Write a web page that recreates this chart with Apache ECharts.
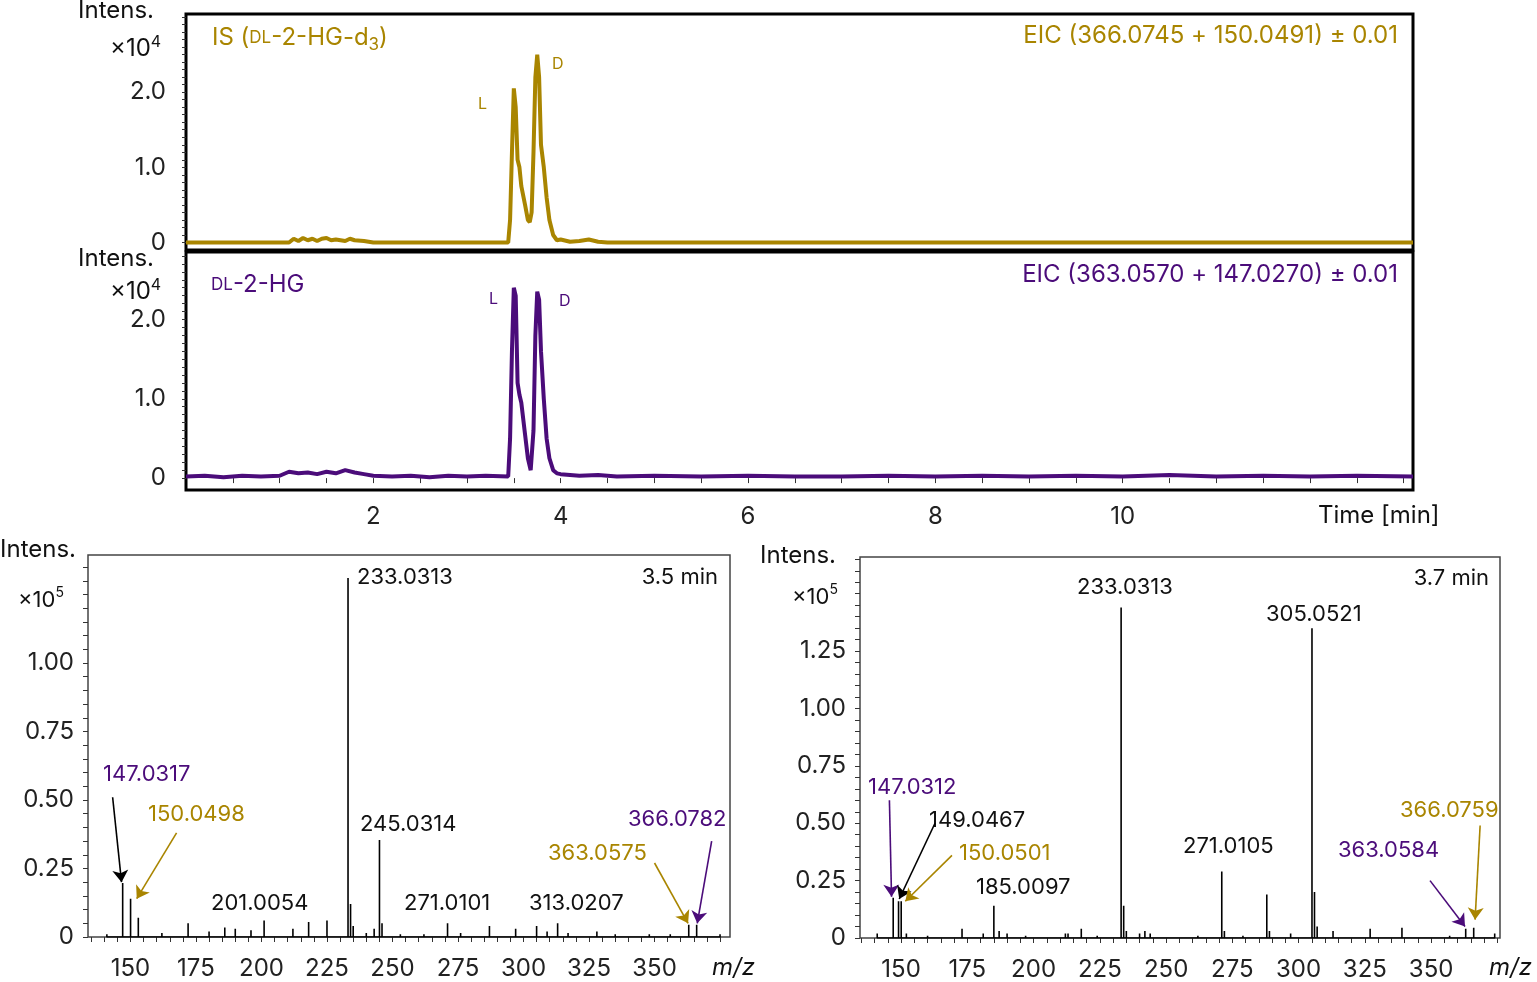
<!DOCTYPE html>
<html><head><meta charset="utf-8">
<script src="https://cdn.jsdelivr.net/npm/echarts@6/dist/echarts.min.js"></script>
<style>html,body{margin:0;padding:0;background:#fff}#c{width:1537px;height:982px}</style>
</head><body><div id="c"></div>
<script>
const GOLD = '#A98500', PURP = '#4B0C7A';
// Chromatogram IS (DL-2-HG-d3), time [min] vs intensity x10^4
const isTime = [0,1.1,1.15,1.2,1.25,1.3,1.35,1.4,1.45,1.5,1.55,1.6,1.65,1.7,1.75,1.8,1.9,2.0,2.6,2.62,2.65,3.0,3.02,3.05,3.44,3.46,3.48,3.5,3.52,3.54,3.56,3.58,3.62,3.65,3.67,3.69,3.71,3.73,3.75,3.77,3.79,3.82,3.85,3.88,3.92,3.96,4.0,4.1,4.2,4.3,4.4,4.5,5.8,5.82,5.85,8.5,8.52,8.55,9.6,9.62,9.65,13.1];
const isVal  = [0,0,0.05,0.02,0.06,0.03,0.05,0.02,0.05,0.06,0.03,0.04,0.03,0.02,0.05,0.03,0.02,0,0,0.02,0,0,0.015,0,0,0.3,1.2,2.05,1.8,1.1,1.0,0.75,0.5,0.3,0.27,0.4,1.2,2.2,2.5,2.2,1.3,1.0,0.6,0.3,0.1,0.03,0.04,0.01,0.02,0.04,0.01,0,0,0.015,0,0,0.015,0,0,0.015,0,0];
// Chromatogram DL-2-HG
const hgTime = [0,0.2,0.4,0.6,0.8,1.0,1.1,1.2,1.3,1.4,1.5,1.6,1.7,1.8,1.9,2.0,2.2,2.4,2.6,2.8,3.0,3.2,3.44,3.46,3.48,3.5,3.52,3.54,3.56,3.58,3.62,3.65,3.68,3.71,3.73,3.75,3.77,3.79,3.82,3.85,3.88,3.92,3.96,4.0,4.2,4.4,4.6,5,5.5,6,6.5,7,7.5,8,8.5,9,9.5,10,10.5,11,11.5,12,12.5,13.1];
const hgVal  = [0.02,0.03,0.01,0.03,0.02,0.03,0.08,0.06,0.07,0.05,0.08,0.06,0.1,0.07,0.05,0.03,0.02,0.03,0.01,0.03,0.02,0.03,0.02,0.5,1.6,2.4,2.3,1.2,1.05,0.95,0.55,0.25,0.1,0.6,1.8,2.35,2.25,1.6,1.0,0.5,0.25,0.1,0.06,0.05,0.03,0.04,0.02,0.03,0.02,0.03,0.02,0.02,0.03,0.02,0.03,0.02,0.03,0.02,0.04,0.02,0.03,0.02,0.03,0.02];
// Mass spectrum at 3.5 min, m/z vs intensity x10^5
const ms1Mz  = [141,147.0317,150.0498,153,162,172,180,186,190,196,201.0054,212,218,225,233.0313,234,235,240,243,245.0314,246,253,262,271.0101,276,287,297,305,309,313.0207,317,328,335,348,356,363.0575,366.0782,375];
const ms1Int = [0.01,0.197,0.14,0.07,0.015,0.05,0.02,0.035,0.03,0.025,0.06,0.03,0.055,0.06,1.31,0.12,0.04,0.015,0.03,0.354,0.05,0.01,0.01,0.05,0.015,0.04,0.03,0.04,0.02,0.05,0.015,0.02,0.01,0.01,0.01,0.045,0.045,0.01];
// Mass spectrum at 3.7 min
const ms2Mz  = [141,147.0312,149.0467,150.0501,152,160,173,181,185.0097,187,190,197,212,213,218,224,233.0313,234,235,240,242,244,262,271.0105,272,279,288,289,297,305.0521,306,307,313,327,339,357,363.0584,366.0759,374];
const ms2Int = [0.02,0.175,0.16,0.16,0.02,0.01,0.04,0.02,0.14,0.03,0.02,0.01,0.02,0.02,0.04,0.01,1.44,0.14,0.03,0.02,0.03,0.02,0.01,0.29,0.03,0.01,0.19,0.03,0.02,1.35,0.2,0.05,0.03,0.04,0.045,0.01,0.04,0.045,0.02];
const chromLabels = [2,4,6,8,10];
const msLabels = [150,175,200,225,250,275,300,325,350];

const zip = (a,b)=>a.map((v,i)=>[v,b[i]]);
const sticks = (m,h)=>{const o=[];m.forEach((x,i)=>{o.push([x,0],[x,h[i]],[x,0]);});return o;};
const range=(a,b,s)=>{const o=[];for(let v=a;v<=b+1e-9;v+=s)o.push(+v.toFixed(4));return o;};
const FONT='Inter, Roboto, sans-serif';

const ch = echarts.init(document.getElementById('c'));
const grids = [
  {left:186,top:14,width:1227,height:236,show:true,borderColor:'#000',borderWidth:3},
  {left:186,top:252,width:1227,height:238,show:true,borderColor:'#000',borderWidth:3},
  {left:88,top:555,width:642,height:382,show:true,borderColor:'#444',borderWidth:1.5},
  {left:860,top:557,width:640,height:381,show:true,borderColor:'#444',borderWidth:1.5}
];
const lbl = {fontFamily:FONT,fontSize:24,color:'#222'};
const xAxes = [
  {gridIndex:0,type:'value',min:0,max:13.1,splitLine:{show:false},axisLine:{show:false},axisTick:{show:false},axisLabel:{show:false}},
  {gridIndex:1,type:'value',min:0,max:13.1,splitLine:{show:false},axisLine:{show:false},
   axisTick:{customValues:range(0.5,13,0.5),length:5,lineStyle:{color:'#333'}},
   axisLabel:Object.assign({customValues:chromLabels,margin:15},lbl)},
  {gridIndex:2,type:'value',min:133.8,max:378.8,splitLine:{show:false},axisLine:{show:false},
   axisTick:{customValues:range(135,375,5),length:5,lineStyle:{color:'#333'}},
   axisLabel:Object.assign({customValues:msLabels,margin:20},lbl)},
  {gridIndex:3,type:'value',min:134.5,max:376,splitLine:{show:false},axisLine:{show:false},
   axisTick:{customValues:range(135,375,5),length:5,lineStyle:{color:'#333'}},
   axisLabel:Object.assign({customValues:msLabels,margin:20},lbl)}
];
const yAxes = [
  {gridIndex:0,type:'value',min:-0.1,max:3.04,splitLine:{show:false},axisLine:{show:false},
   axisTick:{customValues:range(0,3,0.1),length:4,lineStyle:{color:'#333'}},
   axisLabel:Object.assign({customValues:[0,1,2],margin:20,formatter:v=>v===0?'0':v.toFixed(1)},lbl)},
  {gridIndex:1,type:'value',min:-0.15,max:2.85,splitLine:{show:false},axisLine:{show:false},
   axisTick:{customValues:range(0,2.8,0.1),length:4,lineStyle:{color:'#333'}},
   axisLabel:Object.assign({customValues:[0,1,2],margin:20,formatter:v=>v===0?'0':v.toFixed(1)},lbl)},
  {gridIndex:2,type:'value',min:0,max:1.394,splitLine:{show:false},axisLine:{show:false},
   axisTick:{customValues:range(0,1.35,0.05),length:5,lineStyle:{color:'#333'}},
   axisLabel:Object.assign({customValues:[0,0.25,0.5,0.75,1],margin:14,formatter:v=>v===0?'0':v.toFixed(2)},lbl)},
  {gridIndex:3,type:'value',min:0,max:1.66,splitLine:{show:false},axisLine:{show:false},
   axisTick:{customValues:range(0,1.65,0.05),length:5,lineStyle:{color:'#333'}},
   axisLabel:Object.assign({customValues:[0,0.25,0.5,0.75,1,1.25],margin:14,formatter:v=>v===0?'0':v.toFixed(2)},lbl)}
];
const arrowLine=(from,to,color)=>[{coord:from,lineStyle:{color,width:1.6,type:'solid'}},{coord:to}];
const series = [
  {type:'line',xAxisIndex:0,yAxisIndex:0,data:zip(isTime,isVal),showSymbol:false,lineStyle:{color:GOLD,width:4},silent:true},
  {type:'line',xAxisIndex:1,yAxisIndex:1,data:zip(hgTime,hgVal),showSymbol:false,lineStyle:{color:PURP,width:4},silent:true},
  {type:'line',xAxisIndex:2,yAxisIndex:2,data:sticks(ms1Mz,ms1Int),showSymbol:false,lineStyle:{color:'#000',width:1.6},silent:true,
   markLine:{silent:true,symbol:['none','arrow'],symbolSize:12,label:{show:false},lineStyle:{type:'solid'},data:[
     arrowLine([143.2,0.51],[146.6,0.2],'#000'),
     arrowLine([167.6,0.38],[152.4,0.14],GOLD),
     arrowLine([350,0.27],[362.8,0.05],GOLD),
     arrowLine([371.8,0.35],[366.3,0.05],PURP)]}},
  {type:'line',xAxisIndex:3,yAxisIndex:3,data:sticks(ms2Mz,ms2Int),showSymbol:false,lineStyle:{color:'#000',width:1.6},silent:true,
   markLine:{silent:true,symbol:['none','arrow'],symbolSize:12,label:{show:false},lineStyle:{type:'solid'},data:[
     arrowLine([145.6,0.6],[146.4,0.18],PURP),
     arrowLine([162.8,0.5],[149.3,0.17],'#000'),
     arrowLine([169.2,0.36],[151.6,0.16],GOLD),
     arrowLine([349.6,0.25],[362.8,0.05],PURP),
     arrowLine([368.5,0.49],[366.6,0.08],GOLD)]}}
];
const T=(x,y,text,color,size,align,extra)=>({type:'text',x,y,style:Object.assign({text,fill:color||'#111',font:(size||22)+'px '+FONT,align:align||'left',verticalAlign:'middle'},extra||{})});
const R=(x,y,text,rich,align,fill)=>({type:'text',x,y,style:{text,rich,fill:fill||'#111',align:align||'left',verticalAlign:'middle',font:'24px '+FONT}});
const richG={n:{fontSize:24,fontFamily:FONT,fill:GOLD},s:{fontSize:17,fontFamily:FONT,fill:GOLD},sub:{fontSize:17,fontFamily:FONT,fill:GOLD,padding:[14,0,0,0]}};
const richP={n:{fontSize:24,fontFamily:FONT,fill:PURP},s:{fontSize:17,fontFamily:FONT,fill:PURP}};
const richX=(sz)=>({n:{fontSize:sz,fontFamily:FONT,fill:'#111'},sup:{fontSize:Math.round(sz*0.65),fontFamily:FONT,fill:'#111',padding:[0,0,14,0]}});
const graphic=[
  T(78,11,'Intens.','#111',24), R(110,49,'{n|×10}{sup|4}',richX(24)),
  T(78,259,'Intens.','#111',24), R(110,292,'{n|×10}{sup|4}',richX(24)),
  T(0,550,'Intens.','#111',24), R(18,600,'{n|×10}{sup|5}',richX(22)),
  T(760,556,'Intens.','#111',24), R(792,597,'{n|×10}{sup|5}',richX(22)),
  R(212,38,'{n|IS (}{s|DL}{n|-2-HG-d}{sub|3}{n|)}',richG,'left',GOLD),
  T(1398,36,'EIC (366.0745 + 150.0491) ± 0.01',GOLD,24,'right'),
  T(478,104,'L',GOLD,16), T(552,64,'D',GOLD,16),
  R(211,285,'{s|DL}{n|-2-HG}',richP,'left',PURP),
  T(1398,275,'EIC (363.0570 + 147.0270) ± 0.01',PURP,24,'right'),
  T(489,299,'L',PURP,16), T(559,301,'D',PURP,16),
  T(1318,516,'Time [min]','#111',24),
  T(712,968,'m/z','#111',24,'left',{font:'italic 24px '+FONT}),
  T(1489,968,'m/z','#111',24,'left',{font:'italic 24px '+FONT}),
  // left spectrum labels
  T(357,577,'233.0313'), T(718,577,'3.5 min','#111',22,'right'), T(360,824,'245.0314'),
  T(211,903,'201.0054'), T(404,903,'271.0101'), T(529,903,'313.0207'),
  T(103,774,'147.0317',PURP), T(148,814,'150.0498',GOLD), T(548,853,'363.0575',GOLD), T(628,819,'366.0782',PURP),
  // right spectrum labels
  T(1077,587,'233.0313'), T(1489,578,'3.7 min','#111',22,'right'), T(1266,614,'305.0521'),
  T(1183,846,'271.0105'), T(976,887,'185.0097'), T(929,820,'149.0467'),
  T(959,853,'150.0501',GOLD), T(868,787,'147.0312',PURP), T(1338,850,'363.0584',PURP), T(1400,810,'366.0759',GOLD)
];
ch.setOption({animation:false,backgroundColor:'#fff',grid:grids,xAxis:xAxes,yAxis:yAxes,series,graphic});
</script></body></html>
